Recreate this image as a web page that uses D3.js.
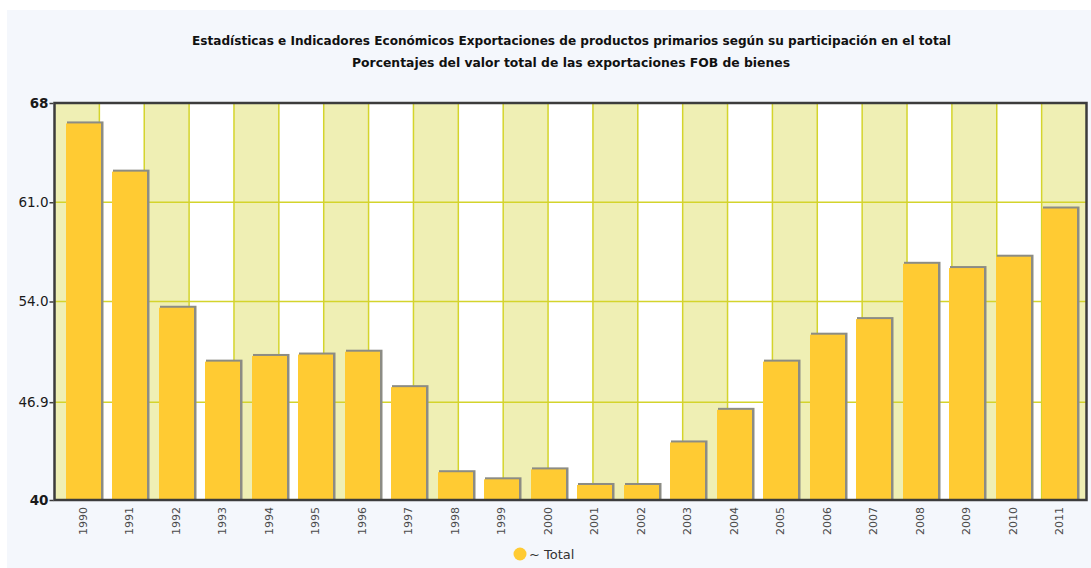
<!DOCTYPE html>
<html>
<head>
<meta charset="utf-8">
<script src="https://cdn.jsdelivr.net/npm/d3@7"></script>
<style>
  body { margin: 0; background: #ffffff; }
  svg { display: block; }
  .tick text { font-family: "DejaVu Sans", Verdana, sans-serif; }
</style>
</head>
<body>
<div id="chart"></div>
<script>
// data
var years = ["1990","1991","1992","1993","1994","1995","1996","1997","1998","1999","2000",
             "2001","2002","2003","2004","2005","2006","2007","2008","2009","2010","2011"];
var totals = [66.7, 63.3, 53.7, 49.9, 50.3, 50.4, 50.6, 48.1, 42.1, 41.6, 42.3,
              41.2, 41.2, 44.2, 46.5, 49.9, 51.8, 52.9, 56.8, 56.5, 57.3, 60.7];
var yTicks = [40, 46.9, 54, 61, 68];
var yTickLabels = ["40", "46.9", "54.0", "61.0", "68"];
var titleLines = [
  "Estadísticas e Indicadores Económicos Exportaciones de productos primarios según su participación en el total",
  "Porcentajes del valor total de las exportaciones FOB de bienes"
];
var seriesName = "~ Total";

var W = 1091, H = 568;
var plot = { left: 54.5, right: 1086.5, top: 103, bottom: 500 };
var nBands = 23;

const svg = d3.select("#chart").append("svg")
  .attr("width", W)
  .attr("height", H);

// light panel behind everything
svg.append("rect")
  .attr("x", 7).attr("y", 10)
  .attr("width", W - 7).attr("height", H - 10)
  .attr("fill", "#f4f7fc");

// title
svg.selectAll("text.title")
  .data(titleLines)
  .enter()
  .append("text")
  .attr("class", "title")
  .attr("x", (d, i) => i == 0 ? 571.5 : 571)
  .attr("y", (d, i) => 45 + i * 22)
  .attr("text-anchor", "middle")
  .attr("textLength", (d, i) => i == 0 ? 759 : 438)
  .attr("lengthAdjust", "spacingAndGlyphs")
  .style("font-family", "'DejaVu Sans Condensed', 'DejaVu Sans', sans-serif")
  .style("font-weight", "bold")
  .style("font-size", "12px")
  .style("fill", "#111")
  .text(d => d);

let y = d3.scaleLinear()
  .domain([40, 68])
  .range([plot.bottom, plot.top]);

let gridX = d3.scaleLinear()
  .domain([0, nBands])
  .range([plot.left, plot.right]);

let x = d3.scaleBand()
  .domain(years)
  .range([plot.left + 5.3, plot.right - 3.8])
  .paddingInner(0.25)
  .paddingOuter(0.125);

// plot background + alternating bands
svg.append("rect")
  .attr("x", plot.left).attr("y", plot.top)
  .attr("width", plot.right - plot.left)
  .attr("height", plot.bottom - plot.top)
  .attr("fill", "#ffffff");

svg.selectAll("rect.band")
  .data(d3.range(0, nBands, 2))
  .enter()
  .append("rect")
  .attr("class", "band")
  .attr("x", d => gridX(d))
  .attr("y", plot.top)
  .attr("width", gridX(1) - gridX(0))
  .attr("height", plot.bottom - plot.top)
  .attr("fill", "#efefb4");

// grid lines
svg.selectAll("line.vgrid")
  .data(d3.range(1, nBands))
  .enter()
  .append("line")
  .attr("class", "vgrid")
  .attr("x1", d => gridX(d)).attr("x2", d => gridX(d))
  .attr("y1", plot.top).attr("y2", plot.bottom)
  .attr("stroke", "#d4d42c")
  .attr("stroke-width", 1.5);

svg.selectAll("line.hgrid")
  .data(yTicks.slice(1, -1))
  .enter()
  .append("line")
  .attr("class", "hgrid")
  .attr("x1", plot.left).attr("x2", plot.right)
  .attr("y1", d => y(d)).attr("y2", d => y(d))
  .attr("stroke", "#d4d42c")
  .attr("stroke-width", 1.5);

// bars with a grey drop edge on top / right
const bx = (d, i) => Math.round(x(years[i]));
const bw = Math.round(x.bandwidth());

svg.selectAll("rect.shadow")
  .data(totals)
  .enter()
  .append("rect")
  .attr("class", "shadow")
  .attr("x", (d, i) => bx(d, i) + 1)
  .attr("y", d => y(d))
  .attr("width", bw + 1.5)
  .attr("height", d => plot.bottom - y(d))
  .attr("fill", "#8c8c84");

svg.selectAll("rect.bar")
  .data(totals)
  .enter()
  .append("rect")
  .attr("class", "bar")
  .attr("x", bx)
  .attr("y", d => y(d) + 2)
  .attr("width", bw)
  .attr("height", d => plot.bottom - y(d) - 2)
  .attr("fill", "#ffcb33");

// frame
svg.append("rect")
  .attr("x", plot.left).attr("y", plot.top)
  .attr("width", plot.right - plot.left)
  .attr("height", plot.bottom - plot.top)
  .attr("fill", "none")
  .attr("stroke", "#3c3c3c")
  .attr("stroke-width", 2.5);

// y axis
let yAxis = d3.axisLeft(y)
  .tickValues(yTicks)
  .tickSize(4)
  .tickFormat((d, i) => yTickLabels[i]);

let gy = svg.append("g")
  .attr("transform", `translate(${plot.left - 1}, 0)`)
  .call(yAxis);
gy.select(".domain").remove();
gy.selectAll(".tick line").attr("stroke", "#3c3c3c").attr("stroke-width", 1.5);
gy.selectAll(".tick text")
  .attr("x", -5)
  .style("font-size", "13.5px")
  .style("fill", "#1a1a1a")
  .style("font-weight", (d, i) => (i == 0 || i == yTicks.length - 1) ? "bold" : "normal");

// x axis labels
let xAxis = d3.axisBottom(x).tickSize(0);
let gx = svg.append("g")
  .attr("transform", `translate(0, ${plot.bottom})`)
  .call(xAxis);
gx.select(".domain").remove();
gx.selectAll(".tick text")
  .attr("transform", "rotate(-90)")
  .attr("x", -7)
  .attr("y", 0)
  .attr("dy", "0.35em")
  .style("text-anchor", "end")
  .style("font-size", "11px")
  .style("fill", "#4a4a4a");

// legend
let legend = svg.append("g").attr("transform", "translate(520, 554)");
legend.append("circle")
  .attr("r", 6.5)
  .attr("fill", "#ffcb33");
legend.append("text")
  .attr("x", 9)
  .attr("y", 5)
  .style("font-family", "'DejaVu Sans', Verdana, sans-serif")
  .style("font-size", "13px")
  .style("fill", "#333")
  .text(seriesName);
</script>
</body>
</html>
